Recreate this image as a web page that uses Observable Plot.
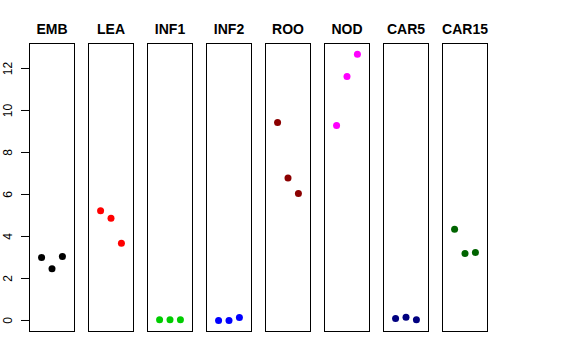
<!DOCTYPE html>
<html>
<head>
<meta charset="utf-8">
<script src="https://cdn.jsdelivr.net/npm/d3@7"></script>
<script src="https://cdn.jsdelivr.net/npm/@observablehq/plot@0.6"></script>
<style>
  html, body { margin: 0; padding: 0; background: #fff; }
  #chart svg { display: block; }
</style>
</head>
<body>
<div id="chart"></div>
<script>
const tissues = ["EMB", "LEA", "INF1", "INF2", "ROO", "NOD", "CAR5", "CAR15"];
const colors = ["#000000", "#FF0000", "#00CD00", "#0000FF", "#8B0000", "#FF00FF", "#000080", "#006400"];
const replicates = [1, 2, 3];
const EMB = [3.0, 2.46, 3.05];
const LEA = [5.22, 4.87, 3.68];
const INF1 = [0.03, 0.04, 0.04];
const INF2 = [0.0, 0.0, 0.14];
const ROO = [9.43, 6.79, 6.05];
const NOD = [9.29, 11.62, 12.68];
const CAR5 = [0.1, 0.16, 0.03];
const CAR15 = [4.35, 3.19, 3.24];
const yTicks = [0, 2, 4, 6, 8, 10, 12];

const series = [EMB, LEA, INF1, INF2, ROO, NOD, CAR5, CAR15];
const data = [];
tissues.forEach((t, i) => {
  series[i].forEach((v, j) => data.push({tissue: t, rep: replicates[j], value: v}));
});

const chart = Plot.plot({
  width: 576,
  height: 360,
  marginLeft: 28.5,
  marginRight: 88,
  marginTop: 43,
  marginBottom: 29,
  style: {fontFamily: "'Liberation Sans', Arial, Helvetica, sans-serif", background: "#fff", color: "#000"},
  fx: {domain: tissues, paddingInner: 0.245, paddingOuter: 0, axis: null},
  x: {domain: [-0.16, 4.16], axis: null},
  y: {domain: [-0.524, 13.19], axis: null},
  color: {domain: tissues, range: colors},
  marks: [
    Plot.frame({stroke: "#000", strokeWidth: 1}),
    Plot.axisFx({anchor: "top", tickSize: 0, tickPadding: 10, fontSize: 14, fontWeight: "bold", label: null}),
    Plot.axisY({ticks: yTicks, tickSize: 8, tickRotate: -90, lineAnchor: "middle", tickPadding: 13, fontSize: 12, label: null, stroke: "#000"}),
    Plot.dot(data, {fx: "tissue", x: "rep", y: "value", fill: "tissue", r: 3.5, stroke: null})
  ]
});
document.getElementById("chart").appendChild(chart);
</script>
</body>
</html>
